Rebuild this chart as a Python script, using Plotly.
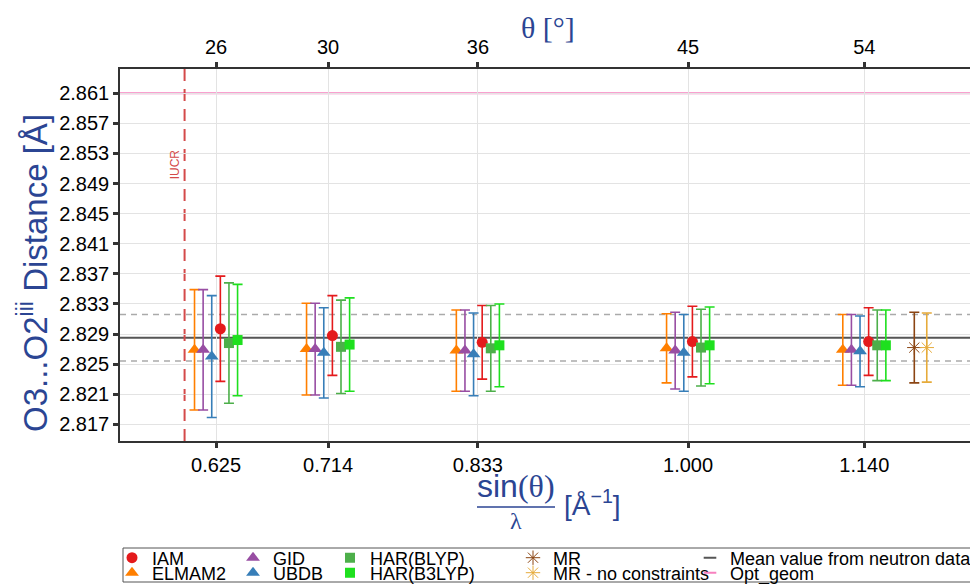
import plotly.graph_objects as go

# ---------------- data ----------------
sin_theta_lambda = [0.625, 0.714, 0.833, 1.000, 1.140]
theta_deg = [26, 30, 36, 45, 54]
x_tick_labels = ["0.625", "0.714", "0.833", "1.000", "1.140"]

iam_y = [2.8297, 2.8288, 2.8279, 2.8280, 2.8280]
iam_err = [0.0070, 0.0053, 0.0049, 0.0047, 0.0045]
elmam2_y = [2.8269, 2.8270, 2.8268, 2.8271, 2.8269]
elmam2_err = [0.0080, 0.0061, 0.0054, 0.0046, 0.0047]
gid_y = [2.8269, 2.8270, 2.8268, 2.8268, 2.8269]
gid_err = [0.0080, 0.0061, 0.0054, 0.0051, 0.0047]
ubdb_y = [2.8260, 2.8265, 2.8263, 2.8265, 2.8267]
ubdb_err = [0.0081, 0.0060, 0.0055, 0.0051, 0.0047]
har_blyp_y = [2.8278, 2.8273, 2.8271, 2.8272, 2.8275]
har_blyp_err = [0.0080, 0.0062, 0.0057, 0.0051, 0.0047]
har_b3lyp_y = [2.8282, 2.8276, 2.8275, 2.8275, 2.8275]
har_b3lyp_err = [0.0074, 0.0062, 0.0055, 0.0051, 0.0047]

mr_x = [1.140]
mr_y = [2.8272]
mr_err = [0.0047]
mr_nc_x = [1.140]
mr_nc_y = [2.8272]
mr_nc_err = [0.0046]

neutron_mean = 2.8285
neutron_sd = 0.0031
opt_geom = 2.861
iucr_limit = 0.600

y_ticks = [2.817, 2.821, 2.825, 2.829, 2.833, 2.837, 2.841, 2.845, 2.849, 2.853, 2.857, 2.861]

# ---------------- styling ----------------
BLUE = "#2B4593"
AX = "#333333"
step = 0.00684  # dodge step (data units)
W, H = 970, 576   # page body adds an 8px offset

fig = go.Figure()

series = [
    # name, y, err, color, symbol, size, dodge, legend
    ("ELMAM2", elmam2_y, elmam2_err, "#FF7F00", "triangle-up", 12, -2.5, "legend2"),
    ("GID", gid_y, gid_err, "#984EA3", "triangle-up", 12, -1.5, "legend3"),
    ("UBDB", ubdb_y, ubdb_err, "#377EB8", "triangle-up", 12, -0.5, "legend4"),
    ("IAM", iam_y, iam_err, "#E41A1C", "circle", 11, 0.5, "legend"),
    ("HAR(BLYP)", har_blyp_y, har_blyp_err, "#4DAF4A", "square", 10, 1.5, "legend5"),
    ("HAR(B3LYP)", har_b3lyp_y, har_b3lyp_err, "#1EE01E", "square", 10, 2.5, "legend6"),
]

for name, ys, errs, col, sym, sz, dodge, lg in series:
    fig.add_trace(go.Scatter(
        x=[v + dodge * step for v in sin_theta_lambda], y=ys,
        mode="markers", name=name, legend=lg,
        marker=dict(color=col, symbol=sym, size=sz),
        error_y=dict(type="data", array=errs, color=col, thickness=1.6, width=5),
    ))

fig.add_trace(go.Scatter(
    x=[v + 0.0397 for v in mr_x], y=mr_y, mode="markers", name="MR", legend="legend7",
    marker=dict(color="#8B4513", symbol="asterisk-open", size=12, line=dict(color="#8B4513", width=1)),
    error_y=dict(type="data", array=mr_err, color="#8B4513", thickness=1.6, width=5),
))
fig.add_trace(go.Scatter(
    x=[v + 0.0496 for v in mr_nc_x], y=mr_nc_y, mode="markers", name="MR - no constraints",
    legend="legend8",
    marker=dict(color="#E6AB3A", symbol="asterisk-open", size=12, line=dict(color="#E6AB3A", width=1)),
    error_y=dict(type="data", array=mr_nc_err, color="#E6AB3A", thickness=1.6, width=5),
))

# legend proxies for the horizontal reference lines
fig.add_trace(go.Scatter(x=[None], y=[None], mode="markers", name="Mean value from neutron data",
                         legend="legend9",
                         marker=dict(symbol="line-ew", size=9, line=dict(color="#555555", width=2))))
fig.add_trace(go.Scatter(x=[None], y=[None], mode="markers", name="Opt_geom", legend="legend10",
                         marker=dict(symbol="line-ew", size=9, line=dict(color="#F781BF", width=2))))

# invisible trace to activate top axis
fig.add_trace(go.Scatter(x=sin_theta_lambda, y=[None] * len(sin_theta_lambda), xaxis="x2",
                         mode="markers", showlegend=False, hoverinfo="skip"))

# reference lines
fig.add_hline(y=opt_geom, line=dict(color="#F781BF", width=2), layer="below")
fig.add_hline(y=neutron_mean, line=dict(color="#555555", width=2), layer="below")
fig.add_hline(y=neutron_mean + neutron_sd, line=dict(color="#AAAAAA", width=1.5, dash="6px,5px"), layer="below")
fig.add_hline(y=neutron_mean - neutron_sd, line=dict(color="#AAAAAA", width=1.5, dash="6px,5px"), layer="below")
fig.add_vline(x=iucr_limit, line=dict(color="#D44A4A", width=2, dash="12px,8px"), layer="below")
fig.add_annotation(x=iucr_limit, y=2.8515, xref="x", yref="y", text="IUCR", textangle=-90,
                   showarrow=False, xanchor="right", yanchor="middle", xshift=-1,
                   font=dict(family="Liberation Sans", size=12, color="#D44A4A"))

# paper coords from screen pixels (plot area spans x 120..978 px, y 69..441 px on screen)
def px(xp):
    return (xp - 120) / 858.0

def py(yp):
    return (441 - yp) / 372.0

fig.add_annotation(x=px(33), y=py(273), xref="paper", yref="paper", showarrow=False,
                   xanchor="center", yanchor="middle",
                   text="O3...O2<sup>iii</sup> Distance [Å]", textangle=-90,
                   font=dict(family="Liberation Sans", size=33, color=BLUE))
fig.add_annotation(x=px(548), y=py(27), xref="paper", yref="paper", showarrow=False,
                   xanchor="center", yanchor="middle",
                   text="θ [°]", font=dict(family="Liberation Serif", size=30, color=BLUE))
fig.add_annotation(x=px(516), y=py(486), xref="paper", yref="paper", showarrow=False,
                   xanchor="center", yanchor="middle",
                   text="sin<span style='font-family:Liberation Serif'>(θ)</span>",
                   font=dict(family="Liberation Sans", size=32, color=BLUE))
fig.add_shape(type="line", xref="paper", yref="paper", x0=px(477), x1=px(555), y0=py(507), y1=py(507),
              line=dict(color=BLUE, width=1.5))
fig.add_annotation(x=px(516), y=py(521), xref="paper", yref="paper", showarrow=False,
                   xanchor="center", yanchor="middle",
                   text="λ", font=dict(family="Liberation Serif", size=24, color=BLUE))
fig.add_annotation(x=px(592), y=py(503), xref="paper", yref="paper", showarrow=False,
                   xanchor="center", yanchor="middle",
                   text="[Å<sup>−1</sup>]", font=dict(family="Liberation Sans", size=28, color=BLUE))

# legend frame
fig.add_shape(type="rect", xref="paper", yref="paper", x0=px(123), x1=px(973), y0=py(548), y1=py(582),
              line=dict(color="#555555", width=1), fillcolor="rgba(0,0,0,0)")

lg_font = dict(family="Liberation Sans", size=18, color="black")
text_start_px = [146, 267, 364, 547, 724]
row_center_px = [558, 573]
placement = {"legend": (0, 0), "legend2": (0, 1), "legend3": (1, 0), "legend4": (1, 1),
             "legend5": (2, 0), "legend6": (2, 1), "legend7": (3, 0), "legend8": (3, 1),
             "legend9": (4, 0), "legend10": (4, 1)}
legend_layout = {}
for lg, (c, r) in placement.items():
    legend_layout[lg] = dict(x=px(text_start_px[c] - 34), y=py(row_center_px[r]),
                             xanchor="left", yanchor="middle",
                             bgcolor="rgba(0,0,0,0)", borderwidth=0, font=lg_font)

tickfont = dict(family="Liberation Sans", size=20, color="black")
fig.update_layout(
    width=W, height=H,
    margin=dict(l=112, r=0, t=61, b=143, autoexpand=False),
    paper_bgcolor="white", plot_bgcolor="white",
    showlegend=True,
    xaxis=dict(range=[0.5487, 1.2303], tickvals=sin_theta_lambda, ticktext=x_tick_labels,
               showgrid=True, gridcolor="#E3E3E3", gridwidth=1, zeroline=False,
               showline=True, linecolor=AX, linewidth=1.5,
               ticks="outside", ticklen=5, tickwidth=2.5, tickcolor=AX, tickfont=tickfont),
    xaxis2=dict(range=[0.5487, 1.2303], overlaying="x", side="top", tickvals=sin_theta_lambda,
                ticktext=[str(t) for t in theta_deg], showgrid=False, zeroline=False,
                showline=True, linecolor=AX, linewidth=1.5,
                ticks="outside", ticklen=5, tickwidth=2.5, tickcolor=AX, tickfont=tickfont),
    yaxis=dict(range=[2.81478, 2.86423], tickvals=y_ticks, ticktext=[f"{v:.3f}" for v in y_ticks],
               showgrid=True, gridcolor="#E3E3E3", gridwidth=1, zeroline=False,
               showline=True, linecolor=AX, linewidth=1.5,
               ticks="outside", ticklen=5, tickwidth=2.5, tickcolor=AX, tickfont=tickfont),
    **legend_layout,
)

fig.write_html("out.html")
